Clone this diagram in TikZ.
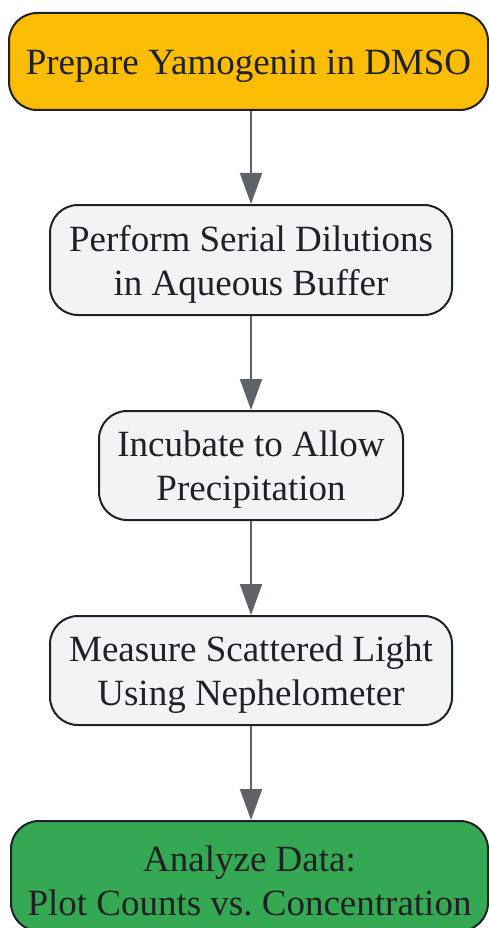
\documentclass[tikz,border=0pt]{standalone}
\usepackage{fontspec}
\setmainfont{Liberation Serif}
\usetikzlibrary{arrows.meta}
\frenchspacing
\definecolor{yel}{HTML}{FBBC04}
\definecolor{gry}{HTML}{F1F3F4}
\definecolor{grn}{HTML}{34A853}
\definecolor{txt}{HTML}{202124}
\definecolor{edge}{HTML}{5F6368}
\begin{document}
\begin{tikzpicture}[x=1pt,y=1pt,
  box/.style={draw=txt, line width=2pt, rounded corners=28pt, inner sep=0pt},
  lbl/.style={align=center, text=txt, font=\fontsize{37}{44}\selectfont, inner sep=0pt},
  conn/.style={draw=edge, line width=2pt, -{Triangle[length=31pt,width=22pt]}}]
\useasboundingbox (0,0) rectangle (489,-928);
\clip (0,0) rectangle (489,-928);
\node[box, fill=yel, minimum width=479pt, minimum height=97pt] (a) at (248.5,-61.5) {};
\node[box, fill=gry, minimum width=402pt, minimum height=110pt] (b) at (251,-260) {};
\node[box, fill=gry, minimum width=304pt, minimum height=109pt] (c) at (251,-465.5) {};
\node[box, fill=gry, minimum width=402pt, minimum height=109pt] (d) at (251,-670.5) {};
\node[box, fill=grn, minimum width=477pt, minimum height=110pt] (e) at (249.5,-876) {};
\node[lbl] (ta) at ([yshift=-4.5pt]a.center) {Prepare Yamogenin in DMSO};
\node[lbl] (tb) at ([yshift=-4.5pt]b.center) {Perform Serial Dilutions\\in Aqueous Buffer};
\node[lbl] (tc) at ([yshift=-4.5pt]c.center) {Incubate to Allow\\Precipitation};
\node[lbl] (td) at ([yshift=-4.5pt]d.center) {Measure Scattered Light\\Using Nephelometer};
\node[lbl] (te) at ([yshift=-4.5pt]e.center) {Analyze Data:\\Plot Counts vs. Concentration};
\draw[conn] (a.south -| b.north) -- (b.north);
\draw[conn] (b) -- (c);
\draw[conn] (c) -- (d);
\draw[conn] (d.south) -- (e.north -| d.south);
\end{tikzpicture}
\end{document}
